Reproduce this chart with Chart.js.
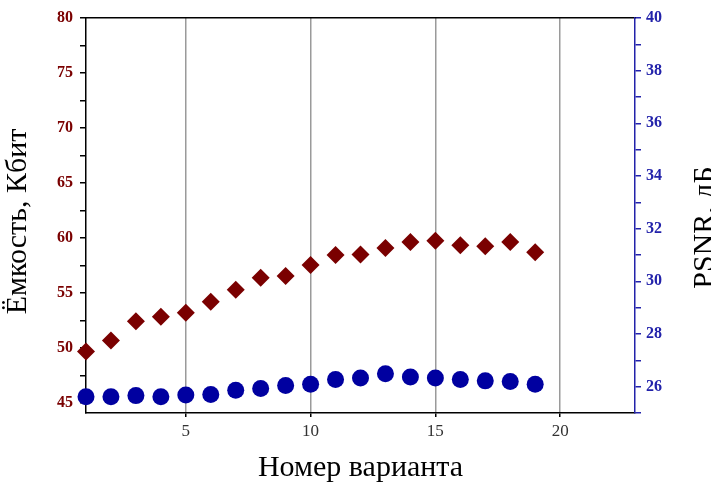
<!DOCTYPE html>
<html>
<head>
<meta charset="utf-8">
<script src="https://cdn.jsdelivr.net/npm/chart.js@4/dist/chart.umd.min.js"></script>
<style>
  html, body { margin: 0; padding: 0; background: #fff; }
  canvas { display: block; }
</style>
</head>
<body>
<canvas id="chart" width="711" height="484"></canvas>
<script>
// номер варианта
const variants = [1, 2, 3, 4, 5, 6, 7, 8, 9, 10, 11, 12, 13, 14, 15, 16, 17, 18, 19];
// ёмкость, Кбит (левая ось)
const capacity = [49.7, 50.7, 52.45, 52.85, 53.2, 54.2, 55.3, 56.4, 56.55, 57.55, 58.45, 58.5, 59.1, 59.65, 59.75, 59.35, 59.25, 59.65, 58.7];
// PSNR, дБ (правая ось)
const psnr = [25.62, 25.62, 25.66, 25.62, 25.68, 25.7, 25.86, 25.93, 26.04, 26.09, 26.27, 26.33, 26.49, 26.37, 26.33, 26.27, 26.22, 26.2, 26.09];

const xTicks = [5, 10, 15, 20];
const leftTicks = [45, 50, 55, 60, 65, 70, 75, 80];
const rightTicks = [26, 28, 30, 32, 34, 36, 38, 40];

const serif = "'Liberation Serif', 'Times New Roman', serif";
const darkRed = '#7a0000';
const blue = '#0000a0';
const axisBlue = '#2222aa';

// major + minor ticks (minor = midpoints, without labels)
function withMinor(major, extraLow) {
    const out = [];
    if (extraLow !== undefined) out.push(extraLow);
    for (let i = 0; i < major.length; i++) {
        out.push(major[i]);
        if (i < major.length - 1) out.push((major[i] + major[i + 1]) / 2);
    }
    return out;
}

const axisTitles = {
    id: 'axisTitles',
    afterDraw(chart) {
        const { ctx, chartArea } = chart;
        const midY = (chartArea.top + chartArea.bottom) / 2;
        ctx.save();
        ctx.fillStyle = '#000';
        ctx.font = '30px ' + serif;
        ctx.textAlign = 'center';
        ctx.textBaseline = 'middle';
        ctx.fillText('Номер варианта', (chartArea.left + chartArea.right) / 2, 468);

        ctx.save();
        ctx.translate(18, midY + 6);
        ctx.rotate(-Math.PI / 2);
        ctx.fillText('Ёмкость, Кбит', 0, 0);
        ctx.restore();

        ctx.save();
        ctx.translate(705, midY + 12);
        ctx.rotate(-Math.PI / 2);
        ctx.fillText('PSNR, дБ', 0, 0);
        ctx.restore();
        ctx.restore();
    }
};

const data = {
    datasets: [{
        label: 'Ёмкость',
        data: variants.map((v, i) => ({ x: v, y: capacity[i] })),
        yAxisID: 'y',
        showLine: false,
        pointStyle: 'rectRot',
        pointRadius: 9,
        backgroundColor: darkRed,
        borderColor: darkRed,
        borderWidth: 0,
        clip: false
    }, {
        label: 'PSNR',
        data: variants.map((v, i) => ({ x: v, y: psnr[i] })),
        yAxisID: 'y2',
        showLine: false,
        pointStyle: 'circle',
        pointRadius: 8.5,
        backgroundColor: blue,
        borderColor: blue,
        borderWidth: 0,
        clip: false
    }]
};

const config = {
    type: 'scatter',
    data: data,
    options: {
        responsive: false,
        animation: false,
        devicePixelRatio: 1,
        layout: { padding: 0 },
        plugins: {
            legend: { display: false },
            tooltip: { enabled: false }
        },
        scales: {
            x: {
                type: 'linear',
                position: 'bottom',
                min: 1,
                max: 23,
                afterBuildTicks: s => { s.ticks = xTicks.map(v => ({ value: v })); },
                afterFit: s => { s.height = 71; },
                ticks: {
                    color: '#333',
                    padding: 4,
                    font: { family: serif, size: 17 }
                },
                grid: {
                    color: '#9a9a9a',
                    lineWidth: 1.5,
                    tickLength: 4,
                    tickColor: '#000'
                },
                border: { color: '#000', width: 1.5 }
            },
            x2: {
                type: 'linear',
                position: 'top',
                min: 1,
                max: 23,
                afterBuildTicks: s => { s.ticks = xTicks.map(v => ({ value: v })); },
                afterFit: s => { s.height = 18; },
                ticks: { display: false },
                grid: { drawOnChartArea: false, drawTicks: false },
                border: { color: '#000', width: 1.5 }
            },
            y: {
                type: 'linear',
                position: 'left',
                min: 44.1,
                max: 80,
                afterBuildTicks: s => { s.ticks = withMinor(leftTicks).map(v => ({ value: v })); },
                afterFit: s => { s.width = 86; },
                ticks: {
                    color: darkRed,
                    padding: 7,
                    font: { family: serif, size: 16, weight: 'bold' },
                    callback: v => leftTicks.includes(v) ? String(v) : ''
                },
                grid: {
                    drawOnChartArea: false,
                    tickLength: 6,
                    tickColor: '#000',
                    lineWidth: 1.5
                },
                border: { color: '#000', width: 1.5 }
            },
            y2: {
                type: 'linear',
                position: 'right',
                min: 25,
                max: 40,
                afterBuildTicks: s => { s.ticks = withMinor(rightTicks, 25).map(v => ({ value: v })); },
                afterFit: s => { s.width = 76; },
                ticks: {
                    color: axisBlue,
                    padding: 5,
                    font: { family: serif, size: 16, weight: 'bold' },
                    callback: v => rightTicks.includes(v) ? String(v) : ''
                },
                grid: {
                    drawOnChartArea: false,
                    tickLength: 6,
                    tickColor: axisBlue,
                    lineWidth: 1.5
                },
                border: { color: axisBlue, width: 1.5 }
            }
        }
    },
    plugins: [axisTitles]
};

new Chart(document.getElementById('chart'), config);
</script>
</body>
</html>
